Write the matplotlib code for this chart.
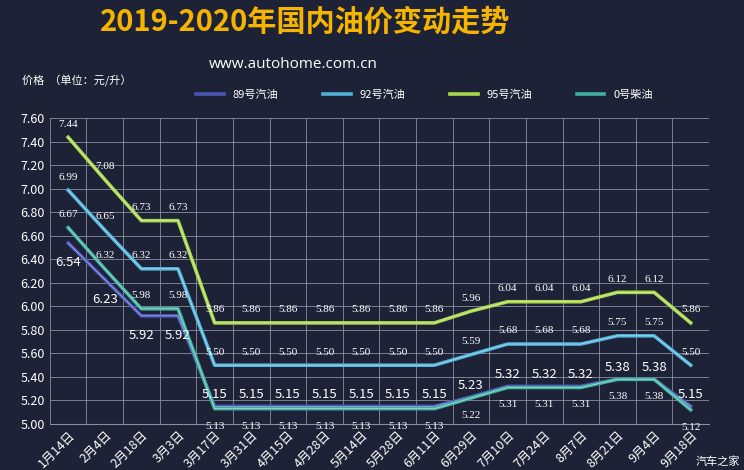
import matplotlib
matplotlib.use("Agg")
import matplotlib.pyplot as plt

plt.rcParams["font.family"] = ["Noto Sans CJK SC"]

dates = ["1月14日","2月4日","2月18日","3月3日","3月17日","3月31日","4月15日","4月28日","5月14日",
         "5月28日","6月11日","6月29日","7月10日","7月24日","8月7日","8月21日","9月4日","9月18日"]
p89 = [6.54,6.23,5.92,5.92,5.15,5.15,5.15,5.15,5.15,5.15,5.15,5.23,5.32,5.32,5.32,5.38,5.38,5.15]
p92 = [6.99,6.65,6.32,6.32,5.50,5.50,5.50,5.50,5.50,5.50,5.50,5.59,5.68,5.68,5.68,5.75,5.75,5.50]
p95 = [7.44,7.08,6.73,6.73,5.86,5.86,5.86,5.86,5.86,5.86,5.86,5.96,6.04,6.04,6.04,6.12,6.12,5.86]
p0  = [6.67,6.32,5.98,5.98,5.13,5.13,5.13,5.13,5.13,5.13,5.13,5.22,5.31,5.31,5.31,5.38,5.38,5.12]
series = [("89号汽油", p89, "#4a55b8"), ("92号汽油", p92, "#4fb3d9"),
          ("95号汽油", p95, "#a8d84a"), ("0号柴油", p0, "#3fb0a0")]

bg = "#1e2236"
fig = plt.figure(figsize=(7.44, 4.70), dpi=100, facecolor=bg)
ax = fig.add_axes([0.067, 0.098, 0.886, 0.65])
ax.set_facecolor(bg)
x = list(range(len(dates)))
for name, vals, col in series:
    ax.plot(x, vals, color=col, lw=2.6, label=name)
    ax.plot(x, vals, color="white", lw=0.5, alpha=0.6)

serif = "Liberation Serif"
for i in x:
    ax.text(i, p95[i] + 0.09, f"{p95[i]:.2f}", color="white", fontsize=8, family=serif, ha="center")
    ax.text(i, p92[i] + 0.09, f"{p92[i]:.2f}", color="white", fontsize=8, family=serif, ha="center")
    if i < 4:
        ax.text(i, p0[i] + 0.09, f"{p0[i]:.2f}", color="white", fontsize=8, family=serif, ha="center")
        ax.text(i, p89[i] - 0.2, f"{p89[i]:.2f}", color="white", fontsize=9.5, ha="center")
    else:
        ax.text(i, p89[i] + 0.07, f"{p89[i]:.2f}", color="white", fontsize=9.5, ha="center")
        ax.text(i, p0[i] - 0.17, f"{p0[i]:.2f}", color="white", fontsize=8, family=serif, ha="center")

ax.set_xlim(-0.5, len(dates) - 0.5)
ax.set_ylim(5.0, 7.6)
ax.set_yticks([5.0 + 0.2 * k for k in range(14)])
ax.set_yticklabels([f"{5.0 + 0.2 * k:.2f}" for k in range(14)], color="white", fontsize=9)
ax.set_xticks(x)
ax.set_xticklabels(dates, rotation=45, ha="right", rotation_mode="anchor", color="white", fontsize=9)
ax.set_xticks([i - 0.5 for i in range(len(dates) + 1)], minor=True)
ax.grid(True, which="minor", axis="x", color="#8a8ea0", lw=0.6)
ax.grid(True, which="major", axis="y", color="#8a8ea0", lw=0.6)
ax.tick_params(length=0, which="both")
for s in ax.spines.values():
    s.set_visible(False)
ax.spines["bottom"].set_visible(True)
ax.spines["bottom"].set_color("#8a8ea0")

fig.legend(loc="upper left", bbox_to_anchor=(0.25, 0.83), ncol=4, frameon=False,
           labelcolor="white", fontsize=8, handlelength=2.5, columnspacing=4)
fig.text(0.41, 0.935, "2019-2020年国内油价变动走势", color="#f5b400", fontsize=21, weight="bold", ha="center")
fig.text(0.28, 0.855, "www.autohome.com.cn", color="white", fontsize=11, family="Open Sans")
fig.text(0.03, 0.82, "价格  （单位：元/升）", color="white", fontsize=8)
fig.text(0.995, 0.01, "汽车之家", color="white", fontsize=8, ha="right")
fig.savefig("out.png", facecolor=bg)
